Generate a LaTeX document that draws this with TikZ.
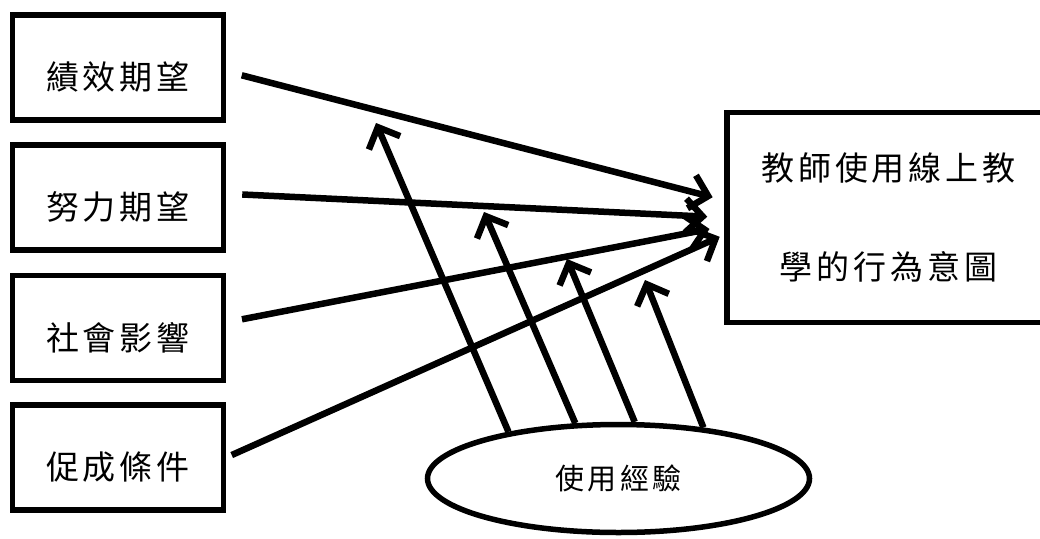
\documentclass[tikz,border=0pt]{standalone}
\usepackage{fontspec}
\usepackage{tikz}
\usetikzlibrary{shapes.geometric,arrows.meta}
\newfontfamily\cjk[LetterSpace=12]{Noto Sans CJK TC}

\begin{document}
\begin{tikzpicture}[x=1pt,y=-1pt,
	factor/.style={rectangle,draw,line width=5.5pt,minimum width=211pt,minimum height=105pt,text height=44pt,text depth=0pt,font=\cjk\fontsize{33}{37}\selectfont},
	link/.style={line width=6.5pt,-{Straight Barb[length=17pt,width=34pt]}}]
	\useasboundingbox (0,0) rectangle (1040,538);
	\clip (0,0) rectangle (1040,538);
	\node [factor] (perf) at (118,67.5) {績效期望};
	\node [factor] (eff) at (118,197.5) {努力期望};
	\node [factor] (soc) at (118,328) {社會影響};
	\node [factor] (fac) at (118,457.5) {促成條件};
	\node [rectangle,draw,line width=5.5pt,minimum width=323pt,minimum height=210pt,align=center,font=\cjk\fontsize{33}{99}\selectfont] (intent) at (888.5,217.5) {教師使用線上教\\學的行為意圖};
	\node [ellipse,draw,line width=5.5pt,minimum width=382pt,minimum height=108pt,inner sep=0pt,font=\cjk\fontsize{29}{34}\selectfont] (exp) at (618.5,478.5) {使用經驗};
	\coordinate (v1) at (376,123);
	\coordinate (v2) at (484,212);
	\coordinate (v3) at (567,259);
	\coordinate (v4) at (645,280);
	\draw [link,shorten <=16pt,shorten >=12pt] (perf.-2.4) -- (intent.174.9);
	\draw [link,shorten <=16pt,shorten >=17pt] (eff.2.4) -- (intent.180.2);
	\draw [link,shorten <=16pt,shorten >=15pt] (soc.3.2) -- (intent.183);
	\draw [link,shorten <=6pt,shorten >=5pt] (fac.0) -- (intent.186.9);
	\draw [link] (exp.157.7) -- (v1);
	\draw [link] (exp.128) -- (v2);
	\draw [link] (exp.74) -- (v3);
	\draw [link] (exp.31.7) -- (v4);
\end{tikzpicture}
\end{document}
